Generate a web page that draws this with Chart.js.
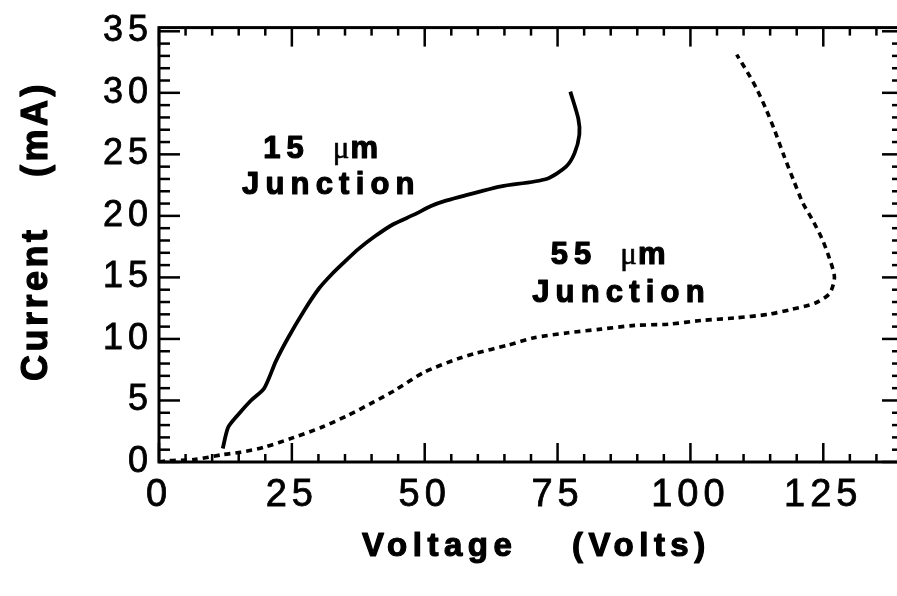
<!DOCTYPE html>
<html>
<head>
<meta charset="utf-8">
<script src="https://cdn.jsdelivr.net/npm/chart.js@4.4.0/dist/chart.umd.min.js"></script>
<style>
  html, body { margin: 0; padding: 0; background: #fff; overflow: hidden; }
  #wrap { width: 903px; height: 596px; }
</style>
</head>
<body>
<div id="wrap"><canvas id="ivChart"></canvas></div>
<script>
const xTicks = [0, 25, 50, 75, 100, 125];
const yTicks = [0, 5, 10, 15, 20, 25, 30, 35];

// 15 um junction (solid)
const volts15 = [12.0, 13.0, 14.8, 17.3, 19.8, 22.0, 24.3, 27.3, 30.1, 32.6, 35.0, 37.5, 40.5, 44.0, 48.0, 51.2, 53.7, 60.6, 64.4, 72.9, 76.6, 78.2, 79.1, 78.9, 77.4];
const amps15  = [1.1, 2.8, 3.8, 5.0, 6.0, 8.2, 10.1, 12.3, 14.1, 15.3, 16.3, 17.3, 18.3, 19.3, 20.1, 20.8, 21.2, 22.0, 22.4, 23.0, 24.0, 25.1, 26.6, 27.9, 30.1];

// 55 um junction (dotted)
const volts55 = [0, 1.7, 6.6, 12.0, 15.4, 19.8, 25.4, 30.5, 35.6, 40.5, 44.3, 49.9, 56.3, 59.3, 65.7, 70.6, 77.0, 83.2, 89.5, 95.9, 102.0, 108.3, 114.7, 119.0, 123.4, 126.2, 127.1, 126.2, 124.7, 122.8, 121.2, 119.4, 117.5, 115.8, 114.2, 112.5, 110.7, 108.7];
const amps55  = [0, 0.1, 0.2, 0.6, 0.8, 1.2, 2.0, 2.8, 3.8, 4.9, 5.8, 7.3, 8.4, 8.8, 9.5, 10.1, 10.5, 10.8, 11.1, 11.2, 11.5, 11.7, 12.0, 12.4, 12.9, 13.7, 15.0, 16.5, 18.2, 19.8, 21.0, 22.9, 25.0, 27.0, 28.7, 30.3, 31.7, 33.1];

const xMinorStep = 5;
const yMinorStep = 1;

const toPoints = (xs, ys) => xs.map((v, i) => ({ x: v, y: ys[i] }));

const frame = {
  id: 'frame',
  beforeDraw(chart) {
    chart.ctx.letterSpacing = '5px';
  },
  beforeDatasetsDraw(chart) {
    chart.ctx.letterSpacing = '0px';
  },
  afterDraw(chart) {
    const { ctx, chartArea: a, scales: { x, y } } = chart;
    const seg = (x1, y1, x2, y2) => { ctx.beginPath(); ctx.moveTo(x1, y1); ctx.lineTo(x2, y2); ctx.stroke(); };
    const text = (t, px, py, sw) => { ctx.fillText(t, px, py); ctx.lineWidth = sw; ctx.strokeText(t, px, py); };
    ctx.save();
    ctx.strokeStyle = '#000';
    ctx.lineWidth = 3;
    ctx.strokeRect(a.left, a.top, a.right - a.left, a.bottom - a.top);

    ctx.lineWidth = 2.5;
    for (let v = x.min; v <= x.max; v += xMinorStep) {
      const px = x.getPixelForValue(v);
      const len = xTicks.includes(v) ? 19 : 8;
      seg(px, a.bottom, px, a.bottom - len);
      seg(px, a.top, px, a.top + len);
    }
    for (let v = 0; v <= 35; v += yMinorStep) {
      const py = y.getPixelForValue(v);
      const len = yTicks.includes(v) ? 21 : 11;
      seg(a.left, py, a.left + len, py);
      seg(a.right, py, a.right - len, py);
    }

    // axis titles
    ctx.fillStyle = '#000';
    ctx.lineJoin = 'round';
    ctx.textBaseline = 'alphabetic';
    ctx.textAlign = 'left';
    ctx.font = 'bold 33px "Liberation Sans", Arial, sans-serif';
    ctx.letterSpacing = '5.5px';
    text('Voltage', 362, 556, 1.2);
    text('(Volts)', 572, 556, 1.2);

    ctx.save();
    ctx.translate(47, 381);
    ctx.rotate(-Math.PI / 2);
    ctx.font = 'bold 36px "Liberation Sans", Arial, sans-serif';
    ctx.letterSpacing = '3.5px';
    text('Current', 0, 0, 1.2);
    text('(mA)', 204, 0, 1.2);
    ctx.restore();

    // curve labels, anchored in data units
    const label = (num, vx, vy, jx, jy) => {
      const bx = x.getPixelForValue(vx), by = y.getPixelForValue(vy);
      const jxp = x.getPixelForValue(jx), jyp = y.getPixelForValue(jy);
      ctx.letterSpacing = '6px';
      ctx.font = 'bold 31px "Liberation Sans", Arial, sans-serif';
      text(num, bx - 3, by, 1.2);
      const w = ctx.measureText(num).width;
      ctx.letterSpacing = '1px';
      ctx.font = '31px "Liberation Serif", serif';
      text('\u03bc', bx + w + 20, by, 0.6);
      const mu = ctx.measureText('\u03bc').width;
      ctx.font = 'bold 31px "Liberation Sans", Arial, sans-serif';
      text('m', bx + w + 20 + mu, by, 1.2);
      ctx.letterSpacing = '6.2px';
      text('Junction', jxp - 1, jyp, 1.2);
    };
    label('15', 20.2, 24.7, 15.8, 21.8);
    label('55', 74.3, 16.1, 70.4, 13.0);
    ctx.restore();
  }
};

new Chart(document.getElementById('ivChart'), {
  type: 'scatter',
  data: {
    datasets: [
      {
        label: '15 um Junction',
        data: toPoints(volts15, amps15),
        showLine: true,
        borderColor: '#000',
        borderWidth: 3.8,
        pointRadius: 0,
        tension: 0.25,
        fill: false
      },
      {
        label: '55 um Junction',
        data: toPoints(volts55, amps55),
        showLine: true,
        borderColor: '#000',
        borderWidth: 3.6,
        borderDash: [6, 5],
        pointRadius: 0,
        tension: 0.25,
        fill: false
      }
    ]
  },
  options: {
    responsive: true,
    maintainAspectRatio: false,
    animation: false,
    devicePixelRatio: 1,
    layout: { padding: { top: 26, right: 0, left: 0, bottom: 0 } },
    plugins: {
      legend: { display: false },
      tooltip: { enabled: false }
    },
    scales: {
      x: {
        type: 'linear',
        min: 0,
        max: 140,
        afterBuildTicks: s => { s.ticks = xTicks.map(v => ({ value: v })); },
        afterFit: s => { s.height = 134; },
        grid: { display: false, drawTicks: false },
        border: { display: false },
        ticks: {
          color: '#000',
          font: { family: '"Liberation Sans", Arial, sans-serif', size: 38 },
          textStrokeColor: '#000',
          textStrokeWidth: 0.8,
          padding: 11,
          maxRotation: 0,
          autoSkip: false
        }
      },
      y: {
        type: 'linear',
        min: 0,
        max: 35.3,
        afterBuildTicks: s => { s.ticks = yTicks.map(v => ({ value: v })); },
        afterFit: s => { s.width = 159; },
        grid: { display: false, drawTicks: false },
        border: { display: false },
        ticks: {
          color: '#000',
          font: { family: '"Liberation Sans", Arial, sans-serif', size: 36 },
          textStrokeColor: '#000',
          textStrokeWidth: 0.8,
          padding: 6,
          autoSkip: false
        }
      }
    }
  },
  plugins: [frame]
});
</script>
</body>
</html>
